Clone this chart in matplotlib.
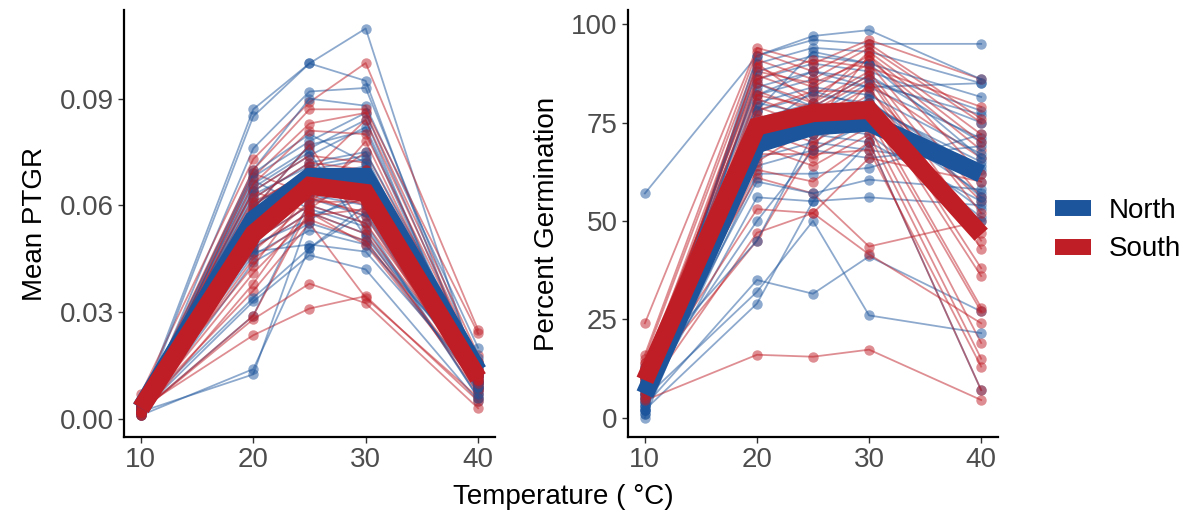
import matplotlib.pyplot as plt
from matplotlib.lines import Line2D
import numpy as np

plt.rcParams['font.family'] = ['Liberation Sans', 'DejaVu Sans']

temps = [10, 20, 25, 30, 40]
xticks = [10, 20, 30, 40]

# Mean PTGR per population (10, 20, 25, 30, 40 C)
ptgr_north = [
    [0.004, 0.087, 0.0999, 0.1097, 0.012],
    [0.003, 0.085, 0.0999, 0.095, 0.010],
    [0.002, 0.076, 0.092, 0.093, 0.015],
    [0.003, 0.070, 0.090, 0.088, 0.020],
    [0.002, 0.068, 0.078, 0.086, 0.014],
    [0.004, 0.066, 0.076, 0.084, 0.009],
    [0.003, 0.064, 0.074, 0.082, 0.012],
    [0.005, 0.062, 0.072, 0.075, 0.017],
    [0.002, 0.060, 0.070, 0.073, 0.008],
    [0.003, 0.058, 0.068, 0.071, 0.011],
    [0.001, 0.056, 0.066, 0.070, 0.013],
    [0.004, 0.055, 0.064, 0.068, 0.007],
    [0.002, 0.053, 0.062, 0.057, 0.010],
    [0.003, 0.050, 0.060, 0.055, 0.006],
    [0.002, 0.048, 0.058, 0.052, 0.012],
    [0.003, 0.046, 0.055, 0.050, 0.009],
    [0.001, 0.044, 0.053, 0.049, 0.014],
    [0.004, 0.047, 0.049, 0.047, 0.011],
    [0.002, 0.033, 0.046, 0.042, 0.005],
    [0.003, 0.034, 0.048, 0.060, 0.016],
    [0.002, 0.029, 0.061, 0.065, 0.008],
    [0.001, 0.014, 0.048, 0.058, 0.010],
    [0.002, 0.0125, 0.057, 0.062, 0.013],
    [0.004, 0.069, 0.080, 0.072, 0.015],
    [0.003, 0.067, 0.059, 0.054, 0.006],
    [0.002, 0.065, 0.075, 0.051, 0.012],
    [0.003, 0.063, 0.071, 0.074, 0.010],
    [0.002, 0.061, 0.067, 0.069, 0.013],
    [0.004, 0.057, 0.065, 0.067, 0.009],
    [0.003, 0.059, 0.077, 0.081, 0.011],
    [0.002, 0.052, 0.063, 0.060, 0.007],
    [0.005, 0.049, 0.056, 0.064, 0.012],
]
ptgr_south = [
    [0.007, 0.073, 0.089, 0.100, 0.025],
    [0.004, 0.070, 0.087, 0.087, 0.024],
    [0.003, 0.068, 0.083, 0.086, 0.018],
    [0.002, 0.066, 0.081, 0.080, 0.016],
    [0.005, 0.064, 0.074, 0.072, 0.013],
    [0.003, 0.062, 0.072, 0.070, 0.012],
    [0.001, 0.060, 0.070, 0.068, 0.010],
    [0.004, 0.058, 0.068, 0.066, 0.011],
    [0.002, 0.056, 0.066, 0.062, 0.009],
    [0.003, 0.054, 0.065, 0.060, 0.014],
    [0.002, 0.052, 0.062, 0.058, 0.008],
    [0.005, 0.050, 0.060, 0.055, 0.012],
    [0.003, 0.048, 0.058, 0.052, 0.007],
    [0.002, 0.045, 0.056, 0.050, 0.010],
    [0.004, 0.043, 0.064, 0.075, 0.015],
    [0.001, 0.038, 0.060, 0.078, 0.013],
    [0.003, 0.036, 0.055, 0.034, 0.006],
    [0.002, 0.028, 0.038, 0.0325, 0.003],
    [0.003, 0.0235, 0.031, 0.0345, 0.005],
    [0.002, 0.029, 0.059, 0.070, 0.011],
    [0.004, 0.064, 0.058, 0.049, 0.009],
    [0.003, 0.059, 0.077, 0.053, 0.012],
    [0.002, 0.069, 0.063, 0.057, 0.008],
    [0.001, 0.061, 0.069, 0.084, 0.016],
    [0.003, 0.057, 0.071, 0.065, 0.010],
    [0.002, 0.053, 0.067, 0.063, 0.012],
    [0.004, 0.047, 0.061, 0.061, 0.009],
    [0.002, 0.041, 0.057, 0.059, 0.011],
]

# Percent germination per population
germ_north = [
    [57, 92, 96, 95, 95],
    [3, 92, 97, 98.5, 86],
    [5, 90, 94, 93, 85],
    [8, 88, 92, 90, 81.5],
    [2, 86, 90, 88, 78],
    [10, 84, 88, 86, 75],
    [12, 82, 86, 84, 71],
    [4, 80, 84, 82, 67],
    [6, 78, 82, 80, 63],
    [1, 76, 80, 78, 60],
    [7, 74, 78, 76, 57],
    [3, 72, 76, 74, 53],
    [9, 70, 74, 72, 51],
    [0, 68, 72, 70, 55],
    [5, 66, 70, 68, 64],
    [11, 64, 68, 66, 69],
    [2, 62, 62, 63.5, 72],
    [6, 60, 57, 60.5, 58],
    [4, 56, 55, 56, 54],
    [8, 50, 68, 75, 50],
    [3, 35, 31.5, 41, 27],
    [5, 32, 50, 26, 21.5],
    [2, 29, 55, 70, 7],
    [13, 45, 72, 80, 62],
    [1, 82, 88, 84, 85],
    [7, 78, 93, 90, 66],
    [4, 85, 79, 87, 70],
    [6, 73, 83, 79, 65],
    [2, 80, 77, 85, 77],
    [9, 67, 75, 81, 56],
]
germ_south = [
    [24, 94, 90, 96, 86],
    [16, 93, 88, 95, 76],
    [15, 91, 86, 94, 75],
    [12, 89, 84, 92, 70],
    [10, 87, 82, 90, 56],
    [8, 85, 80, 88, 52],
    [14, 83, 78, 86, 45],
    [6, 81, 76, 84, 43],
    [11, 79, 74, 82, 38],
    [9, 77, 72, 80, 36],
    [13, 75, 70, 78, 28],
    [7, 73, 68, 76, 27],
    [10, 71, 66, 74, 19],
    [12, 69, 64, 72, 15],
    [8, 67, 67, 68, 13],
    [5, 63, 60, 70, 7],
    [11, 61, 57, 43.5, 50],
    [9, 53, 52, 66, 60],
    [6, 47, 52, 41.5, 24],
    [4.4, 16, 15.5, 17.3, 4.5],
    [10, 45, 69, 85, 66],
    [12, 86, 91, 89, 79],
    [8, 90, 80, 93, 72],
    [14, 65, 74, 92, 62],
    [10, 88, 85, 91, 68],
    [7, 82, 79, 87, 47],
    [13, 78, 83, 83, 55],
]

# region means (thick lines)
ptgr_mean_north = [0.003, 0.056, 0.068, 0.068, 0.0135]
ptgr_mean_south = [0.003, 0.052, 0.0655, 0.0635, 0.0115]
germ_mean_north = [6, 69.5, 74, 75, 62]
germ_mean_south = [9.5, 74, 77.4, 78.2, 46.5]

BLUE = '#1D559C'
RED = '#BF1E26'
TICK_GREY = '#4D4D4D'


def draw_panel(ax, north, south, mean_n, mean_s):
    rows = [(r, BLUE) for r in north] + [(r, RED) for r in south]
    # mix the order so neither colour sits fully on top
    rows = rows[::2] + rows[1::2]
    for r, c in rows:
        ax.plot(temps, r, color=c, alpha=0.5, lw=1.3, marker='o', ms=7.5,
                markeredgewidth=0, zorder=2)
    ax.plot(temps, mean_n, color=BLUE, lw=13, solid_joinstyle='miter',
            solid_capstyle='butt', zorder=3)
    ax.plot(temps, mean_s, color=RED, lw=13, solid_joinstyle='miter',
            solid_capstyle='butt', zorder=4)
    ax.set_xlim(8.5, 41.5)
    ax.set_xticks(xticks)
    for s in ['top', 'right']:
        ax.spines[s].set_visible(False)
    for s in ['left', 'bottom']:
        ax.spines[s].set_linewidth(1.6)
    ax.tick_params(labelsize=20, labelcolor=TICK_GREY, color='#333333',
                   length=4, width=1.0)


fig = plt.figure(figsize=(11.83, 5.14), dpi=100)
ax1 = fig.add_axes([0.1048, 0.1498, 0.3136, 0.8307])
ax2 = fig.add_axes([0.5309, 0.1498, 0.3127, 0.8307])

draw_panel(ax1, ptgr_north, ptgr_south, ptgr_mean_north, ptgr_mean_south)
ax1.set_ylim(-0.0051, 0.1149)
ax1.set_yticks([0.0, 0.03, 0.06, 0.09])
ax1.set_yticklabels(['0.00', '0.03', '0.06', '0.09'])
ax1.set_ylabel('Mean PTGR', fontsize=20, labelpad=8)

draw_panel(ax2, germ_north, germ_south, germ_mean_north, germ_mean_south)
ax2.set_ylim(-4.9, 103.6)
ax2.set_yticks([0, 25, 50, 75, 100])
ax2.set_ylabel('Percent Germination', fontsize=20, labelpad=8)

fig.text(563 / 1183, 1 - 497 / 514, 'Temperature ( \u00b0C)', fontsize=20,
         ha='center', va='center')

handles = [Line2D([], [], color=BLUE, lw=11.5, solid_capstyle='butt'),
           Line2D([], [], color=RED, lw=11.5, solid_capstyle='butt')]
fig.legend(handles, ['North', 'South'], loc='center left',
           bbox_to_anchor=(1030 / 1183, 1 - 230 / 514), frameon=False,
           fontsize=20, handlelength=1.3, handletextpad=0.65, labelspacing=0.45)

fig.savefig('out.png', dpi=100)
